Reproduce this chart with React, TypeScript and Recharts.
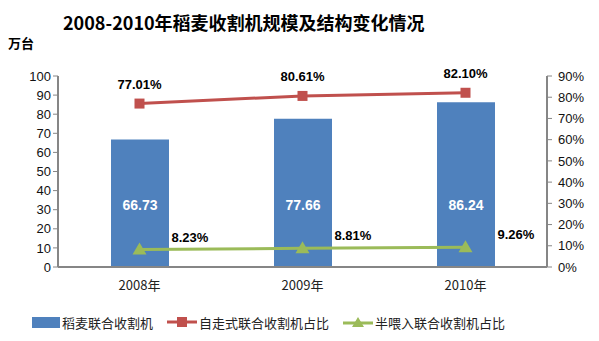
import React from "react";
import {
  ComposedChart,
  Bar,
  Line,
  XAxis,
  YAxis,
  Legend,
  LabelList,
} from "recharts";

// data
const years = ["2008年", "2009年", "2010年"];
const harvesters = [66.73, 77.66, 86.24]; // 万台
const selfPropelled = [77.01, 80.61, 82.1]; // %
const halfFeed = [8.23, 8.81, 9.26]; // %
const leftTicks = [0, 10, 20, 30, 40, 50, 60, 70, 80, 90, 100];
const rightTicks = [0, 10, 20, 30, 40, 50, 60, 70, 80, 90];

const BLUE = "#4F81BD";
const RED = "#C0504D";
const GREEN = "#9BBB59";
const AXIS = "#868686";
const NUM_FONT = "'Liberation Sans', Arial, sans-serif";
const CJK_FONT = "'Noto Sans CJK SC', sans-serif";

interface Row {
  year: string;
  total: number;
  self: number;
  half: number;
}

const chartData: Row[] = years.map((y, i) => ({
  year: y,
  total: harvesters[i],
  self: selfPropelled[i],
  half: halfFeed[i],
}));

const SquareDot = (props: any) => {
  const { cx, cy } = props;
  if (cx == null || cy == null) return null;
  return <rect x={cx - 5} y={cy - 5} width={10} height={10} fill={RED} />;
};

const TriangleDot = (props: any) => {
  const { cx, cy } = props;
  if (cx == null || cy == null) return null;
  return (
    <polygon
      points={`${cx},${cy - 7} ${cx + 7},${cy + 5} ${cx - 7},${cy + 5}`}
      fill={GREEN}
    />
  );
};

const HalfLabel = (props: any) => {
  const { x, y, value } = props;
  return (
    <text
      x={x + 32}
      y={y - 13}
      dy={5}
      textAnchor="start"
      fontFamily={NUM_FONT}
      fontWeight="bold"
      fontSize={13}
      fill="#000"
    >
      {`${Number(value).toFixed(2)}%`}
    </text>
  );
};

const CustomLegend = () => {
  const item: React.CSSProperties = {
    display: "flex",
    alignItems: "center",
    marginRight: 14,
  };
  const txt: React.CSSProperties = {
    fontFamily: CJK_FONT,
    fontSize: 13,
    color: "#222",
  };
  return (
    <div
      style={{
        display: "flex",
        height: 30,
        alignItems: "center",
        paddingLeft: 32,
      }}
    >
      <div style={item}>
        <span style={{ width: 28, height: 11, background: BLUE, marginRight: 2 }} />
        <span style={txt}>稻麦联合收割机</span>
      </div>
      <div style={item}>
        <svg width={30} height={12} style={{ marginRight: 2 }}>
          <line x1={0} y1={6} x2={30} y2={6} stroke={RED} strokeWidth={3} />
          <rect x={10} y={1} width={10} height={10} fill={RED} />
        </svg>
        <span style={txt}>自走式联合收割机占比</span>
      </div>
      <div style={item}>
        <svg width={30} height={12} style={{ marginRight: 2 }}>
          <line x1={0} y1={7} x2={30} y2={7} stroke={GREEN} strokeWidth={3} />
          <polygon points="15,1 21,11 9,11" fill={GREEN} />
        </svg>
        <span style={txt}>半喂入联合收割机占比</span>
      </div>
    </div>
  );
};

export default function App() {
  return (
    <div
      style={{
        position: "absolute",
        left: 0,
        top: 0,
        width: 599,
        height: 341,
        background: "#fff",
      }}
    >
      <div
        style={{
          position: "absolute",
          left: 63,
          top: 9,
          fontFamily: CJK_FONT,
          fontWeight: "bold",
          fontSize: 18,
          color: "#000",
          whiteSpace: "nowrap",
          lineHeight: "26px",
        }}
      >
        2008-2010年稻麦收割机规模及结构变化情况
      </div>
      <div
        style={{
          position: "absolute",
          left: 8,
          top: 33,
          fontFamily: CJK_FONT,
          fontWeight: "bold",
          fontSize: 13,
          color: "#000",
        }}
      >
        万台
      </div>
      <ComposedChart
        width={599}
        height={341}
        data={chartData}
        margin={{ top: 76, right: 0, bottom: 4, left: 0 }}
        barCategoryGap={52}
      >
        <XAxis
          dataKey="year"
          height={40}
          tickLine={false}
          axisLine={{ stroke: AXIS, strokeWidth: 2 }}
          tick={{ fontFamily: CJK_FONT, fontSize: 13, fill: "#222" }}
          tickMargin={8}
        />
        <YAxis
          yAxisId="left"
          width={58}
          domain={[0, 100]}
          ticks={leftTicks}
          interval={0}
          axisLine={{ stroke: AXIS, strokeWidth: 2 }}
          tickLine={{ stroke: AXIS }}
          tickSize={5}
          tick={{ fontFamily: NUM_FONT, fontSize: 13, fill: "#111" }}
        />
        <YAxis
          yAxisId="right"
          orientation="right"
          width={52}
          domain={[0, 90]}
          ticks={rightTicks}
          interval={0}
          axisLine={{ stroke: AXIS, strokeWidth: 2 }}
          tickLine={{ stroke: AXIS }}
          tickSize={5}
          tickFormatter={(v: number) => `${v}%`}
          tick={{ fontFamily: NUM_FONT, fontSize: 13, fill: "#111", textAnchor: "start" }}
          tickMargin={6}
        />
        <Legend verticalAlign="bottom" content={<CustomLegend />} />
        <Bar
          yAxisId="left"
          dataKey="total"
          fill={BLUE}
          barSize={58}
          isAnimationActive={false}
        >
          <LabelList
            dataKey="total"
            position="insideBottom"
            offset={57}
            fill="#fff"
            fontFamily={NUM_FONT}
            fontWeight="bold"
            fontSize={14}
            formatter={(v: any) => Number(v).toFixed(2)}
          />
        </Bar>
        <Line
          yAxisId="right"
          dataKey="self"
          stroke={RED}
          strokeWidth={3}
          dot={<SquareDot />}
          activeDot={false}
          isAnimationActive={false}
        >
          <LabelList
            dataKey="self"
            position="top"
            offset={15}
            fill="#000"
            fontFamily={NUM_FONT}
            fontWeight="bold"
            fontSize={13}
            formatter={(v: any) => `${Number(v).toFixed(2)}%`}
          />
        </Line>
        <Line
          yAxisId="right"
          dataKey="half"
          stroke={GREEN}
          strokeWidth={3}
          dot={<TriangleDot />}
          activeDot={false}
          isAnimationActive={false}
        >
          <LabelList dataKey="half" content={<HalfLabel />} />
        </Line>
      </ComposedChart>
    </div>
  );
}
